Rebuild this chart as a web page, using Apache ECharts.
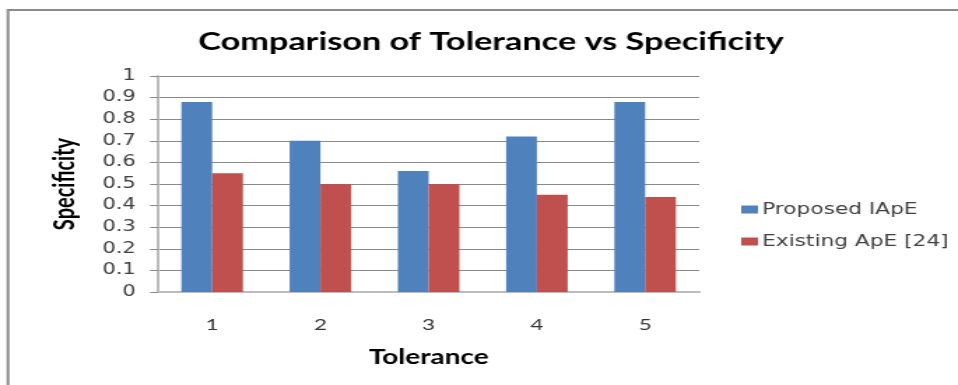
<!DOCTYPE html>
<html>
<head>
<meta charset="utf-8">
<script src="https://cdn.jsdelivr.net/npm/echarts@6/dist/echarts.min.js"></script>
<style>
  html, body { margin: 0; padding: 0; background: #fff; overflow: hidden; }
  /* chart is laid out narrower and widened horizontally, giving the wide lettering */
  #chart { width: 685px; height: 385px; transform: scaleX(1.3985); transform-origin: 0 0; }
</style>
</head>
<body>
<div id="chart"></div>
<script>
const categories = ['1', '2', '3', '4', '5'];
const proposedIApE = [0.88, 0.70, 0.56, 0.72, 0.88];
const existingApE = [0.55, 0.50, 0.50, 0.45, 0.44];
const seriesNames = ['Proposed IApE', 'Existing ApE [24]'];
const yTicks = { min: 0, max: 1, interval: 0.1 };

const chart = echarts.init(document.getElementById('chart'));
chart.setOption({
  animation: false,
  backgroundColor: '#ffffff',
  graphic: [{
    type: 'rect',
    shape: { x: 5.7, y: 10, width: 700, height: 400 },
    style: { fill: 'none', stroke: '#8a8a8a', lineWidth: 2 },
    silent: true
  }],
  title: {
    text: 'Comparison of Tolerance vs Specificity',
    left: 346,
    top: 25,
    textAlign: 'center',
    textStyle: { fontFamily: 'Lato', fontWeight: 'bold', fontSize: 24.5, color: '#000' }
  },
  legend: {
    orient: 'vertical',
    left: 525,
    top: 196,
    itemWidth: 12,
    itemHeight: 8,
    itemGap: 15,
    icon: 'rect',
    data: seriesNames,
    textStyle: { fontFamily: 'DejaVu Sans', fontSize: 15.5, color: '#404040', padding: [0, 0, 0, -2], lineHeight: 17 }
  },
  grid: { left: 113, right: 185, top: 76, bottom: 93 },
  xAxis: {
    type: 'category',
    data: categories,
    name: 'Tolerance',
    nameLocation: 'middle',
    nameGap: 56,
    nameTextStyle: { fontFamily: 'Lato', fontWeight: 'bold', fontSize: 20, color: '#000' },
    axisLine: { lineStyle: { color: '#bcbcbc', width: 2 } },
    axisTick: { show: false },
    axisLabel: { fontFamily: 'Lato', fontSize: 16, color: '#333', margin: 25 }
  },
  yAxis: {
    type: 'value',
    min: yTicks.min,
    max: yTicks.max,
    interval: yTicks.interval,
    name: 'Specificity',
    nameLocation: 'middle',
    nameRotate: 90,
    nameGap: 56,
    nameTextStyle: { fontFamily: 'Lato', fontWeight: 'bold', fontSize: 20, color: '#000' },
    axisLine: { show: true, lineStyle: { color: '#bcbcbc', width: 2 } },
    axisTick: { show: true, length: 5.7, lineStyle: { color: '#8a8a8a' } },
    splitLine: { lineStyle: { color: '#8a8a8a', width: 1 } },
    axisLabel: { fontFamily: 'DejaVu Sans', fontSize: 15, color: '#404040', margin: 16,
      formatter: v => String(Math.round(v * 10) / 10) }
  },
  series: [
    { name: seriesNames[0], type: 'bar', data: proposedIApE, barWidth: 22, barGap: '0%',
      itemStyle: { color: '#4f81bd' } },
    { name: seriesNames[1], type: 'bar', data: existingApE, barWidth: 22,
      itemStyle: { color: '#c0504d' } }
  ]
});
</script>
</body>
</html>
